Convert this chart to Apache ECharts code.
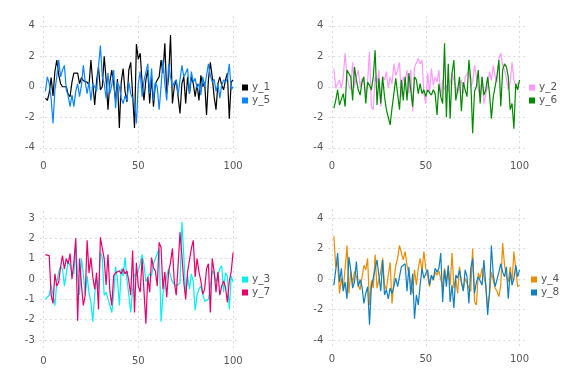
<!DOCTYPE html>
<html><head><meta charset="utf-8">
<script src="https://cdn.jsdelivr.net/npm/echarts@6/dist/echarts.min.js"></script>
<style>html,body{margin:0;padding:0;background:#fff}#c{width:576px;height:384px}</style>
</head><body><div id="c"></div>
<script>
const y_1 = [-0.75,-0.9,-0.4,0.6,-0.6,1.0,1.75,0.8,0.2,0.0,-0.1,0.0,-0.5,-0.65,0.3,0.9,1.0,0.9,0.2,0.6,0.4,0.5,0.3,0.1,1.75,0.2,-1.2,0.4,1.3,-0.2,0.0,2.0,0.5,-1.5,0.3,1.1,0.2,-0.9,0.5,-2.7,0.3,1.2,-0.3,-1.0,1.1,1.6,-0.5,-2.7,2.8,1.8,2.2,0.3,-0.9,0.45,1.1,-1.1,0.65,-1.3,0.2,0.45,0.65,1.75,0.9,2.85,-0.45,0.65,3.4,-1.1,0.0,0.45,-0.65,-1.75,0.2,0.65,-1.1,0.65,-0.45,0.65,0.2,-0.65,0.2,-0.9,0.75,0.0,0.3,-1.85,0.45,1.6,0.65,-0.65,-1.5,0.2,0.65,0.1,-0.2,0.45,0.9,-2.1,0.3,0.45];
const y_5 = [-0.3,0.65,0.2,-0.75,-2.4,-0.2,0.65,1.75,0.65,1.1,1.4,-0.2,-0.6,-1.3,-0.55,-1.3,-0.3,0.2,-0.65,0.1,1.4,0.3,-0.45,0.3,-0.9,0.2,0.0,-0.3,1.3,2.7,0.65,0.2,-0.75,0.9,-0.45,0.1,1.1,-1.4,0.3,0.0,-0.75,-1.1,-0.6,-0.9,0.3,-0.45,-0.55,-1.1,-2.4,0.2,1.0,-0.65,0.4,0.3,1.5,-0.45,1.2,-0.9,0.3,0.0,-1.5,0.0,1.75,0.2,-0.9,1.5,0.65,0.0,0.3,0.45,-0.55,0.45,1.4,0.65,0.9,1.2,-0.45,1.0,0.3,0.55,-0.1,0.2,-0.55,0.65,0.0,0.75,1.5,0.75,0.3,0.5,-0.3,0.2,-0.75,0.1,0.45,0.3,0.55,1.5,-0.2,0.0];
const y_2 = [1.2,-0.1,-0.2,0.45,-0.1,0.65,2.2,0.65,0.1,-0.2,1.6,0.0,0.65,1.1,0.0,0.55,0.3,-0.55,0.4,2.3,-1.3,-1.5,0.65,0.2,1.1,-1.3,0.65,0.45,1.0,-0.1,0.65,0.2,1.5,0.75,1.1,1.6,-0.65,0.65,0.3,1.1,-0.45,1.1,-1.6,1.3,1.2,1.85,1.5,1.75,-0.45,-1.1,0.9,-0.45,1.2,0.1,0.65,0.3,1.1,-0.65,0.45,-0.2,0.1,-0.3,0.2,0.9,0.45,0.0,-0.45,0.0,0.45,-0.45,0.65,0.65,1.0,0.0,0.3,1.4,0.65,-0.2,-0.65,0.65,-1.1,-0.45,0.0,1.0,0.4,1.4,0.65,0.3,1.85,2.2,1.4,1.1,0.55,-0.2,0.3,1.6,0.45,0.0,0.2,0.3];
const y_6 = [-1.4,-0.9,-0.2,-1.2,-1.1,-0.45,-1.3,1.1,1.0,0.65,-0.9,1.3,0.45,-0.2,-0.55,0.3,0.65,-1.1,0.3,0.1,-0.2,0.65,2.4,-1.2,0.55,-1.1,0.65,-0.65,-1.5,-2.0,-2.5,-1.4,-0.45,0.55,0.65,-1.5,0.45,-0.9,0.65,-0.9,0.9,-0.2,-1.3,0.65,0.45,-0.45,0.2,-0.45,-0.2,-0.65,-0.2,-0.3,-0.55,-0.2,-0.45,-1.85,0.2,-0.65,-1.1,2.85,-2.0,1.5,-2.1,0.9,1.75,-0.9,-0.2,0.65,-1.6,0.3,-0.2,-0.65,1.75,0.45,-3.05,-0.3,0.0,1.1,-1.1,0.65,-0.55,-0.2,0.65,-0.45,-2.1,-0.65,0.0,0.75,1.75,-1.3,1.1,1.5,1.3,0.65,-1.5,-1.1,-2.75,0.2,-0.2,0.45];
const y_3 = [-1.0,-0.9,-0.8,-0.3,-0.25,-1.3,-0.15,0.35,0.6,0.5,-0.35,0.25,0.9,0.65,0.35,0.25,1.8,0.15,-0.8,1.0,0.25,-0.8,0.15,-0.7,-1.15,-2.1,-0.75,0.0,-0.5,1.3,1.05,-0.8,-0.65,-0.6,-1.3,-1.65,-0.8,0.6,0.0,-1.3,0.5,0.15,1.05,0.0,-0.8,-1.65,-0.5,0.25,0.15,0.4,0.75,1.2,0.7,-0.15,0.1,0.25,0.15,0.75,1.0,1.25,1.5,-2.1,-0.75,-0.3,0.15,0.5,0.55,-0.15,-0.25,-0.35,-0.4,-0.2,2.8,1.15,-0.8,0.15,-0.5,0.25,-0.15,-1.55,-0.8,-0.5,-0.35,-0.75,-1.1,-1.15,-1.0,-0.35,0.4,0.3,-0.15,0.15,0.5,0.65,-0.65,0.3,0.15,-1.5,0.15,-0.15];
const y_7 = [1.2,1.15,1.15,-0.8,-1.2,0.25,-0.35,-0.15,0.6,1.15,0.5,1.0,0.75,1.25,0.0,0.8,2.0,-2.05,1.0,-0.3,-1.3,-0.8,1.9,0.3,1.05,0.1,-0.5,0.3,-1.5,2.05,1.5,1.0,-0.3,1.2,-0.6,-1.3,0.15,0.3,0.25,0.4,0.25,0.5,0.25,0.4,-0.1,-0.8,1.4,-1.65,0.8,-0.35,-0.65,1.0,1.05,-2.2,0.1,-0.65,1.05,0.55,0.4,-0.35,1.8,1.55,-0.5,0.35,-0.9,0.35,0.8,1.5,-0.15,-0.8,0.65,2.3,1.15,-0.15,-1.0,0.35,0.4,1.5,1.9,0.1,1.0,0.35,-0.1,-0.75,-0.5,0.5,0.75,-1.65,1.0,0.35,-0.65,0.35,-0.8,-0.35,-0.1,-0.4,-1.15,-0.1,0.35,1.3];
const y_4 = [2.8,0.8,1.1,-0.95,0.05,-0.7,0.7,2.2,-0.95,0.5,-0.3,0.5,0.15,-0.4,-0.7,-0.6,0.9,0.6,1.35,-1.7,-0.1,-0.6,1.6,-0.6,-0.7,0.5,1.35,-0.4,-0.7,0.25,1.1,-1.6,-0.1,0.9,1.35,2.2,1.7,1.25,1.8,0.9,0.8,-0.2,-0.95,0.6,-0.4,0.7,1.35,0.5,1.8,0.7,0.25,-0.5,0.25,-0.1,0.45,0.25,0.55,0.45,-0.6,0.7,-0.1,0.7,-0.4,1.7,-0.6,0.05,-0.95,0.8,-0.2,-0.7,0.05,0.15,-0.6,-0.8,2.0,-1.5,-1.7,0.4,0.05,0.7,0.8,-0.4,-1.9,-1.05,0.45,-0.1,-0.6,-0.8,-1.15,-0.4,2.35,0.9,0.15,-0.2,0.8,-0.2,1.8,0.6,-0.5,-0.4];
const y_8 = [-0.4,0.6,1.7,-0.2,0.7,-0.8,-0.2,-1.3,1.45,0.6,-0.6,-0.2,1.15,-0.5,-0.05,-0.5,-1.6,-0.95,-0.5,-3.0,-0.5,0.05,-0.05,1.25,1.15,-0.8,1.25,-1.05,-0.7,-1.3,-0.6,-0.95,-0.5,0.05,-0.5,0.15,0.8,0.9,1.0,-0.8,0.8,-1.05,0.35,-2.6,-1.05,-1.7,-0.4,0.7,0.05,0.35,0.6,-0.4,0.25,-0.05,0.7,0.45,0.7,1.7,-1.5,0.6,-0.5,0.9,-1.5,-0.4,-1.9,0.25,0.05,0.6,-0.2,-0.8,0.6,0.15,-1.6,0.7,1.35,-0.95,-0.2,0.15,0.25,-0.4,1.25,-0.4,-2.35,-0.8,2.2,0.25,-0.5,-0.6,0.45,1.0,0.45,0.15,0.8,-1.3,0.45,-0.4,0.05,0.9,0.15,0.6];

const xTicks = [0, 50, 100];
const yTicksTop = [-4, -2, 0, 2, 4];
const yTicksBL = [-3, -2, -1, 0, 1, 2, 3];

const FONT = 'DejaVu Sans';
const TXT = '#555555';
const GRIDC = '#d9d9e6';

const panels = [
  {grid:{left:39.8, top:16, width:198.9, height:140}, y:[-4.54,4.64], yi:2, legend:{left:242, top:82},
   s:[['y_1', y_1, '#000000'], ['y_5', y_5, '#0a84ff']]},
  {grid:{left:328.3, top:16, width:196.8, height:140}, y:[-4.54,4.64], yi:2, legend:{left:529, top:82},
   s:[['y_2', y_2, '#ff99ff'], ['y_6', y_6, '#008a00']]},
  {grid:{left:39.8, top:211, width:198.9, height:140}, y:[-3.54,3.34], yi:1, legend:{left:242, top:274},
   s:[['y_3', y_3, '#00f0f0'], ['y_7', y_7, '#e6006e']]},
  {grid:{left:328.3, top:209, width:196.8, height:140}, y:[-4.59,4.59], yi:2, legend:{left:531, top:274},
   s:[['y_4', y_4, '#ec8c00'], ['y_8', y_8, '#0f7fbf']]}
];

const option = {animation:false, backgroundColor:'#fff', grid:[], xAxis:[], yAxis:[], legend:[], series:[]};
panels.forEach((p, k) => {
  option.grid.push(Object.assign({containLabel:false}, p.grid));
  option.xAxis.push({type:'value', gridIndex:k, min:-1.97, max:102.97, splitNumber:2, minInterval:50, maxInterval:50,
    axisLine:{show:false}, axisTick:{show:false},
    axisLabel:{color:TXT, fontFamily:FONT, fontSize:10, margin:5, showMinLabel:false, showMaxLabel:false},
    splitLine:{show:true, showMinLine:false, showMaxLine:false, lineStyle:{color:GRIDC, type:[2,3], width:1}}});
  option.yAxis.push({type:'value', gridIndex:k, min:p.y[0], max:p.y[1], minInterval:p.yi, maxInterval:p.yi, splitNumber:5,
    axisLine:{show:false}, axisTick:{show:false},
    axisLabel:{color:TXT, fontFamily:FONT, fontSize:10, margin:5, showMinLabel:false, showMaxLabel:false},
    splitLine:{show:true, showMinLine:false, showMaxLine:false, lineStyle:{color:GRIDC, type:[2,3], width:1}}});
  option.legend.push({orient:'vertical', left:p.legend.left, top:p.legend.top, icon:'rect', itemWidth:6, itemHeight:6,
    itemGap:2, padding:0, textStyle:{color:TXT, fontFamily:FONT, fontSize:10.5, lineHeight:11, padding:[0,0,0,-1]},
    data:p.s.map(s => s[0])});
  p.s.forEach(([name, vals, color]) => {
    option.series.push({name, type:'line', xAxisIndex:k, yAxisIndex:k, showSymbol:false, symbol:'none',
      color, lineStyle:{color, width:1.2}, data: vals.map((v, i) => [i + 1, v])});
  });
});
const chart = echarts.init(document.getElementById('c'), null, {renderer:'canvas'});
chart.setOption(option);
</script></body></html>
